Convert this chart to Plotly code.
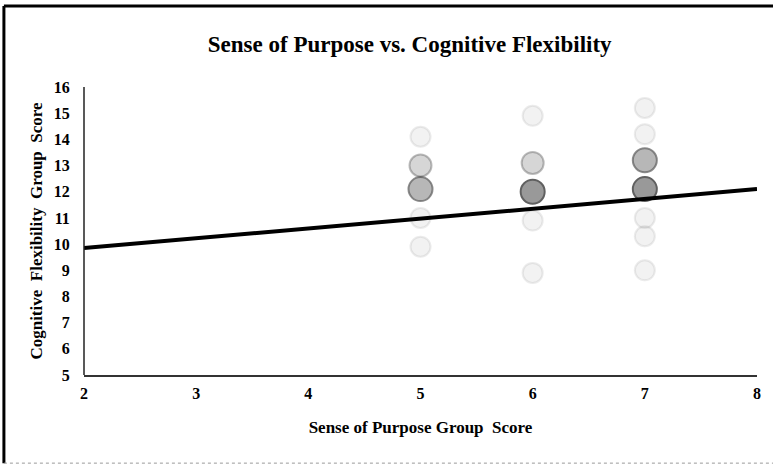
import plotly.graph_objects as go

# data
purpose_score = [5, 5, 5, 5, 5,
                 6, 6, 6, 6, 6,
                 7, 7, 7, 7, 7, 7, 7]
flex_score = [14.1, 13.0, 12.1, 11.0, 9.9,
              14.9, 13.1, 12.0, 10.9, 8.9,
              15.2, 14.2, 13.2, 12.1, 11.0, 10.3, 9.0]
n_students = [1, 2, 3, 1, 1,
              1, 2, 4, 1, 1,
              1, 1, 3, 4, 1, 1, 1]

trend_x = [2, 8]
trend_y = [9.85, 12.1]

x_ticks = [2, 3, 4, 5, 6, 7, 8]
y_ticks = list(range(5, 17))

SERIF = "Liberation Serif"


def shade(n, base):
    # more overlapping points -> darker marker
    a = min(0.10 + 0.25 * (n - 1), 0.9) * base
    return f"rgba(30,30,30,{min(a, 1):.2f})"


fig = go.Figure()

fig.add_trace(go.Scatter(
    x=purpose_score, y=flex_score,
    mode="markers",
    marker=dict(
        symbol="circle",
        size=[18 + 2 * min(n, 3) for n in n_students],
        color=[shade(n, 0.75) for n in n_students],
        line=dict(color=[shade(n, 1.2) for n in n_students], width=2),
    ),
    showlegend=False,
))

fig.add_trace(go.Scatter(
    x=trend_x, y=trend_y,
    mode="lines",
    line=dict(color="black", width=4),
    showlegend=False,
))

fig.update_layout(
    width=773, height=465,
    margin=dict(l=84, r=16, t=87, b=90),
    paper_bgcolor="white",
    plot_bgcolor="white",
    font=dict(family=SERIF, color="black", size=15),
    title=dict(
        text="<b>Sense of Purpose vs. Cognitive Flexibility</b>",
        x=0.53, xanchor="center", y=0.905, yanchor="middle",
        font=dict(family=SERIF, size=23, color="black"),
    ),
    shapes=[
        dict(type="line", xref="paper", yref="paper",
             x0=-0.119, x1=1.03, y0=1.281, y1=1.281,
             line=dict(color="black", width=3)),
        dict(type="line", xref="paper", yref="paper",
             x0=-0.119, x1=-0.119, y0=-0.306, y1=1.281,
             line=dict(color="black", width=3)),
        dict(type="line", xref="paper", yref="paper",
             x0=-0.119, x1=1.03, y0=-0.306, y1=-0.306,
             line=dict(color="#999", width=1, dash="dot")),
        # y axis line of the plot area
        dict(type="line", xref="paper", yref="paper",
             x0=0, x1=0, y0=0, y1=1,
             line=dict(color="#222", width=1.5)),
    ],
)

fig.update_xaxes(
    range=[2, 8], tickvals=x_ticks,
    showgrid=False, zeroline=False,
    showline=True, linecolor="#333", linewidth=1.5,
    ticks="outside", ticklen=3, tickcolor="white",
    tickfont=dict(family=SERIF, size=16, color="black", weight="bold"),
    title=dict(text="<b>Sense of Purpose Group  Score</b>",
               font=dict(family=SERIF, size=17, color="black"), standoff=20),
)

fig.update_yaxes(
    range=[5, 16], tickvals=y_ticks,
    showgrid=False, zeroline=False,
    showline=False,
    ticks="outside", ticklen=10, tickcolor="white",
    tickfont=dict(family=SERIF, size=16, color="black", weight="bold"),
    title=dict(text="<b>Cognitive  Flexibility  Group  Score</b>",
               font=dict(family=SERIF, size=17, color="black"), standoff=6),
)

fig.write_html("out.html", config={"displayModeBar": False},
               post_script="document.body.style.margin='0';")
